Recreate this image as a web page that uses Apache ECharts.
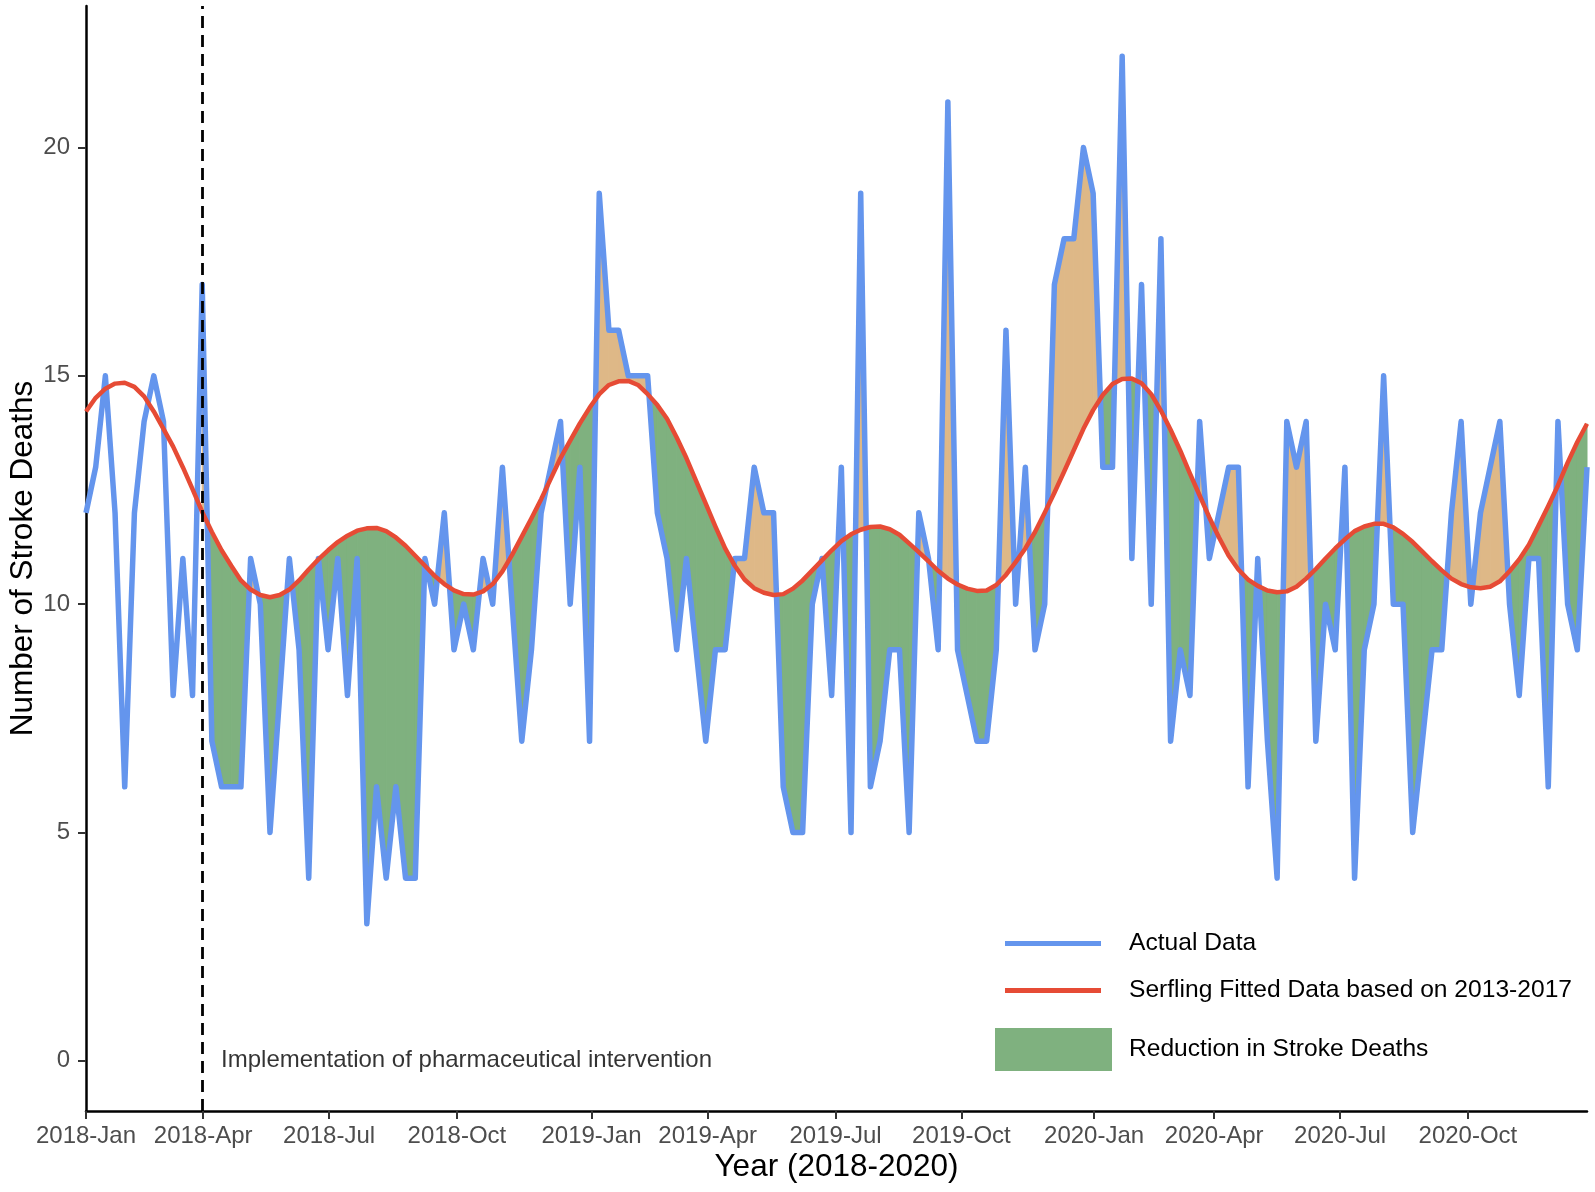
<!DOCTYPE html>
<html>
<head>
<meta charset="utf-8">
<script src="https://cdn.jsdelivr.net/npm/echarts@6/dist/echarts.min.js"></script>
<style>
  html, body { margin: 0; padding: 0; background: #fff; }
  #chart { width: 1595px; height: 1192px; }
</style>
</head>
<body>
<div id="chart"></div>
<script>
// weekly stroke deaths, 2018-2020 (week 0 = first week of 2018)
const actual = [
  12, 13, 15, 12, 6, 12, 14, 15, 14, 8, 11, 8, 17, 7, 6, 6, 6, 11, 10, 5,
  8, 11, 9, 4, 11, 9, 11, 8, 11, 3, 6, 4, 6, 4, 4, 11, 10, 12, 9, 10,
  9, 11, 10, 13, 10, 7, 9, 12, 13, 14, 10, 13, 7, 19, 16, 16, 15, 15, 15, 12,
  11, 9, 11, 9, 7, 9, 9, 11, 11, 13, 12, 12, 6, 5, 5, 10, 11, 8, 13, 5,
  19, 6, 7, 9, 9, 5, 12, 11, 9, 21, 9, 8, 7, 7, 9, 16, 10, 13, 9, 10,
  17, 18, 18, 20, 19, 13, 13, 22, 11, 17, 10, 18, 7, 9, 8, 14, 11, 12, 13, 13,
  6, 11, 7, 4, 14, 13, 14, 7, 10, 9, 13, 4, 9, 10, 15, 10, 10, 5, 7, 9,
  9, 12, 14, 10, 12, 13, 14, 10, 8, 11, 11, 6, 14, 10, 9, 13
];

// Serfling fitted values
const fitted = [
  14.22, 14.52, 14.72, 14.83, 14.85, 14.76, 14.55, 14.22, 13.84, 13.45,
  13.0, 12.52, 12.02, 11.58, 11.18, 10.84, 10.52, 10.32, 10.2, 10.15,
  10.2, 10.32, 10.52, 10.76, 10.98, 11.18, 11.36, 11.5, 11.61, 11.66,
  11.67, 11.6, 11.46, 11.28, 11.06, 10.84, 10.62, 10.44, 10.3, 10.22,
  10.21, 10.28, 10.44, 10.72, 11.08, 11.48, 11.88, 12.3, 12.75, 13.2,
  13.58, 13.96, 14.3, 14.6, 14.8, 14.88, 14.89, 14.8, 14.6, 14.36,
  14.06, 13.65, 13.2, 12.7, 12.2, 11.7, 11.22, 10.84, 10.54, 10.35,
  10.25, 10.2, 10.22, 10.34, 10.52, 10.74, 10.96, 11.18, 11.38, 11.53,
  11.63, 11.69, 11.7, 11.64, 11.52, 11.33, 11.14, 10.94, 10.73, 10.56,
  10.43, 10.34, 10.29, 10.3, 10.42, 10.64, 10.92, 11.22, 11.58, 12.0,
  12.44, 12.9, 13.37, 13.84, 14.25, 14.58, 14.82, 14.93, 14.94, 14.84,
  14.6, 14.24, 13.82, 13.36, 12.86, 12.38, 11.9, 11.46, 11.06, 10.76,
  10.54, 10.4, 10.3, 10.26, 10.28, 10.38, 10.56, 10.77, 11.0, 11.22,
  11.42, 11.6, 11.7, 11.76, 11.76, 11.68, 11.54, 11.36, 11.15, 10.94,
  10.74, 10.56, 10.44, 10.37, 10.35, 10.38, 10.5, 10.72, 10.98, 11.3,
  11.72, 12.15, 12.6, 13.1, 13.55, 13.95
];

const tickWeeks = [0, 12.1, 25.1, 38.3, 52.2, 64.2, 77.4, 90.4, 104.1, 116.5, 129.5, 142.7];
const tickLabels = [
  "2018-Jan", "2018-Apr", "2018-Jul", "2018-Oct",
  "2019-Jan", "2019-Apr", "2019-Jul", "2019-Oct",
  "2020-Jan", "2020-Apr", "2020-Jul", "2020-Oct"
];
const yTicks = [0, 5, 10, 15, 20];

const interventionWeek = 12;
const annotationWeek = 13.95;
const annotationText = "Implementation of pharmaceutical intervention";

const BLUE = "#6495ED";
const RED = "#E64B35";
const GREEN = "#7FB17F";
const ORANGE = "#DEB887";
const FONT = "Liberation Sans";

const actualData = actual.map((v, i) => [i, v]);
const fittedData = fitted.map((v, i) => [i, v]);

// one item per weekly segment after the intervention
const segments = [];
for (let i = interventionWeek; i < actual.length - 1; i++) {
  segments.push([i, actual[i], fitted[i], i + 1, actual[i + 1], fitted[i + 1]]);
}

function renderGap(params, api) {
  const x0 = api.value(0), a0 = api.value(1), f0 = api.value(2);
  const x1 = api.value(3), a1 = api.value(4), f1 = api.value(5);
  const d0 = a0 - f0;
  const d1 = a1 - f1;
  const pt = (x, y) => api.coord([x, y]);
  const poly = (points, d) => {
    const c = d < 0 ? GREEN : ORANGE;
    return {
      type: "polygon",
      shape: { points },
      style: { fill: c, stroke: c, lineWidth: 1, lineJoin: "round" },
    };
  };
  const children = [];
  if (d0 * d1 >= 0) {
    children.push(poly([pt(x0, a0), pt(x1, a1), pt(x1, f1), pt(x0, f0)], d0 + d1));
  } else {
    const t = d0 / (d0 - d1);
    const xc = x0 + t * (x1 - x0);
    const yc = f0 + t * (f1 - f0);
    children.push(poly([pt(x0, a0), pt(xc, yc), pt(x0, f0)], d0));
    children.push(poly([pt(xc, yc), pt(x1, a1), pt(x1, f1)], d1));
  }
  return { type: "group", children };
}

function legendBox(name, top, itemWidth, itemHeight, left, textPad) {
  return {
    data: [{ name, icon: "rect" }],
    left,
    top,
    orient: "vertical",
    padding: 0,
    itemWidth,
    itemHeight,
    selectedMode: false,
    textStyle: {
      fontFamily: FONT,
      fontSize: 24.6,
      lineHeight: 24,
      color: "#000",
      padding: [0, 0, 0, textPad],
    },
  };
}

const chart = echarts.init(document.getElementById("chart"));
chart.setOption({
  animation: false,
  backgroundColor: "#fff",
  textStyle: { fontFamily: FONT },
  grid: { left: 86, right: 8, top: 6, bottom: 81, outerBoundsMode: "none", containLabel: false },
  legend: [
    legendBox("Actual Data", 931, 96, 5, 1005, 23),
    legendBox("Serfling Fitted Data based on 2013-2017", 978, 96, 5, 1005, 23),
    legendBox("Reduction in Stroke Deaths", 1028, 117, 43, 995, 12),
  ],
  xAxis: {
    type: "value",
    min: 0,
    max: actual.length - 1,
    name: "Year (2018-2020)",
    nameLocation: "middle",
    nameGap: 40,
    nameMoveOverlap: false,
    nameTextStyle: { fontFamily: FONT, fontSize: 31.5, color: "#000" },
    axisLine: { show: true, onZero: false, lineStyle: { color: "#000", width: 2.5 } },
    axisTick: { show: true, length: 8, customValues: tickWeeks, lineStyle: { color: "#333", width: 2 } },
    axisLabel: {
      customValues: tickWeeks,
      formatter: (v) => tickLabels[tickWeeks.indexOf(v)] || "",
      fontFamily: FONT,
      fontSize: 24,
      color: "#4D4D4D",
      margin: 13,
    },
    splitLine: { show: false },
  },
  yAxis: {
    type: "value",
    min: -1.1,
    max: 23.1,
    name: "Number of Stroke Deaths",
    nameLocation: "middle",
    nameGap: 47,
    nameMoveOverlap: false,
    nameTextStyle: { fontFamily: FONT, fontSize: 31.5, color: "#000" },
    axisLine: { show: true, onZero: false, lineStyle: { color: "#000", width: 2.5 } },
    axisTick: { show: true, length: 8, customValues: yTicks, lineStyle: { color: "#333", width: 2 } },
    axisLabel: {
      customValues: yTicks,
      fontFamily: FONT,
      fontSize: 24,
      color: "#4D4D4D",
      margin: 16,
    },
    splitLine: { show: false },
  },
  series: [
    {
      name: "Reduction in Stroke Deaths",
      type: "custom",
      renderItem: renderGap,
      data: segments,
      encode: { x: [0, 3], y: [1, 2, 4, 5] },
      itemStyle: { color: GREEN },
      silent: true,
      z: 1,
    },
    {
      name: "Actual Data",
      type: "line",
      data: actualData,
      showSymbol: false,
      symbol: "none",
      color: BLUE,
      lineStyle: { color: BLUE, width: 5.5, join: "round" },
      z: 2,
      markLine: {
        silent: true,
        symbol: "none",
        label: { show: false },
        lineStyle: { color: "#000", width: 2.8, type: [12, 7] },
        data: [{ xAxis: interventionWeek }],
      },
    },
    {
      name: "Serfling Fitted Data based on 2013-2017",
      type: "line",
      data: fittedData,
      showSymbol: false,
      symbol: "none",
      color: RED,
      lineStyle: { color: RED, width: 4.5, join: "round" },
      z: 3,
    },
    {
      type: "scatter",
      data: [[annotationWeek, 0]],
      symbolSize: 0,
      silent: true,
      label: {
        show: true,
        position: "right",
        distance: 0,
        formatter: annotationText,
        fontFamily: FONT,
        fontSize: 24,
        color: "#000",
      },
      z: 4,
    },
  ],
});
</script>
</body>
</html>
